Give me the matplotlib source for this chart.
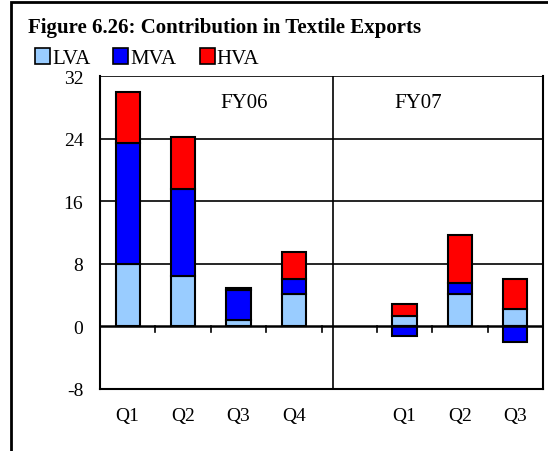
import matplotlib.pyplot as plt
import matplotlib.patches as mpatches
import numpy as np

plt.rcParams['font.family'] = ['Liberation Serif', 'DejaVu Serif']
plt.rcParams['axes.unicode_minus'] = False

# contribution by value-added group, per quarter
quarters = ['Q1', 'Q2', 'Q3', 'Q4', '', 'Q1', 'Q2', 'Q3']
lva = [8.0, 6.5, 0.8, 4.2, 0, 1.35, 4.2, 2.2]
mva = [15.5, 11.0, 3.8, 1.8, 0, -1.25, 1.3, -2.0]
hva = [6.4, 6.7, 0.25, 3.45, 0, 1.5, 6.2, 3.9]
has_bar = [True, True, True, True, False, True, True, True]
groups = ['FY06', 'FY07']

colors = {'LVA': '#99CCFF', 'MVA': '#0000FF', 'HVA': '#FF0000'}

fig = plt.figure(figsize=(5.48, 4.52), dpi=100)
ax = fig.add_axes([100/548, 62/452, 443/548, 313/452])

x = np.arange(len(quarters))
w = 0.44

# stack positives upward, negatives downward
pos_base = np.zeros(len(x))
neg_base = np.zeros(len(x))
for name, vals in [('LVA', lva), ('MVA', mva), ('HVA', hva)]:
    for i, v in enumerate(vals):
        if not has_bar[i]:
            continue
        base = pos_base if v >= 0 else neg_base
        ax.bar(x[i], v, w, bottom=base[i], color=colors[name],
               edgecolor='black', linewidth=1.5, zorder=3)
        base[i] += v

ax.set_xlim(-0.5, 7.5)
ax.set_ylim(-8, 32)
ax.set_yticks([-8, 0, 8, 16, 24, 32])
ax.tick_params(axis='y', length=0, labelsize=14, pad=12)
ax.set_xticks(x)
ax.set_xticklabels(quarters)
ax.tick_params(axis='x', length=0, labelsize=14, pad=13)

# gridlines and zero line
for yv in [8, 16, 24, 32]:
    ax.axhline(yv, color='black', linewidth=1.2, zorder=1)
ax.axhline(0, color='black', linewidth=1.8, zorder=4)
# small ticks hanging from the zero line
for b in np.arange(0.5, 7, 1):
    ax.plot([b, b], [0, -0.75], color='black', linewidth=1.2, zorder=4)

# divider between fiscal years
ax.axvline(3.7, color='black', linewidth=1.2, zorder=1)
ax.text(2.1, 28.6, groups[0], ha='center', va='center', fontsize=15)
ax.text(5.25, 28.6, groups[1], ha='center', va='center', fontsize=15)

ax.spines['top'].set_visible(False)
for s in ['left', 'bottom', 'right']:
    ax.spines[s].set_linewidth(1.5)

# title and legend
fig.text(28/548, 1 - 33/452, 'Figure 6.26: Contribution in Textile Exports',
         fontsize=15, fontweight='bold', va='baseline')
handles = [mpatches.Patch(facecolor=colors[k], edgecolor='black', linewidth=1.2, label=k)
           for k in ['LVA', 'MVA', 'HVA']]
fig.legend(handles=handles, loc='upper left', bbox_to_anchor=(35/548, 1 - 49/452),
           ncol=3, frameon=False, fontsize=15, handlelength=0.72, handleheight=0.77,
           handletextpad=0.1, columnspacing=1.1, borderaxespad=0, borderpad=0)

# outer frame
fig.patches.append(mpatches.Rectangle((11/548, -0.05), 1.0, 1 - 3/452 + 0.05,
                                      transform=fig.transFigure, fill=False,
                                      edgecolor='black', linewidth=2))

fig.savefig('out.png', dpi=100)
